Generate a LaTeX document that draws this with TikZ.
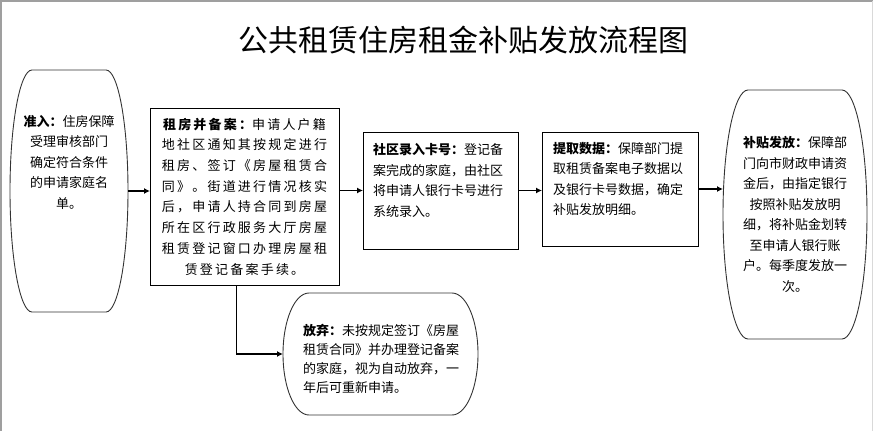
\documentclass[tikz,border=0pt]{standalone}
\usepackage{fontspec}
\setmainfont{Noto Sans CJK SC}
\usetikzlibrary{arrows.meta}

\tikzset{
  box/.style={draw, line width=1pt, inner sep=0pt, outer sep=0pt},
  blob/.style={inner sep=0pt, outer sep=0pt},
  txt/.style={inner sep=0pt, font=\fontsize{13pt}{20.5pt}\selectfont},
  shapeline/.style={draw=black!80, line width=0.9pt},
  arr/.style={line width=1.4pt, -{Latex[length=6pt,width=6pt]}},
}

% outline of a capsule node: node name, end x radius, end y radius
\newcommand{\capsule}[3]{%
  \draw[shapeline] ([xshift=#2]#1.north west) -- ([xshift=-#2]#1.north east)
    arc[start angle=90, end angle=-90, x radius=#2, y radius=#3]
    -- ([xshift=#2]#1.south west)
    arc[start angle=270, end angle=90, x radius=#2, y radius=#3] -- cycle;}

\begin{document}
\begin{tikzpicture}[x=1pt, y=-1pt]
    \useasboundingbox (0,0) rectangle (875,431);
    % frame
    \draw[gray!75, line width=1.5pt] (873,0.75) -- (1,0.75) -- (1,431);
    \draw[gray!30, line width=1pt] (872.5,0.75) -- (872.5,431);

    \node[font=\fontsize{30pt}{32pt}\selectfont] (title) at (463,40) {公共租赁住房租金补贴发放流程图};

    % shapes
    \node[blob, minimum width=118pt, minimum height=242pt] (entry) at (69,191) {};
    \capsule{entry}{22pt}{121pt}
    \node[txt, align=center] (entrytxt) at (69,162)
        {{\bfseries 准入：}住房保障\\受理审核部门\\确定符合条件\\的申请家庭名\\单。};

    \node[box, minimum width=189pt, minimum height=177pt, align=center,
          font=\fontsize{13pt}{20.7pt}\selectfont\addfontfeature{LetterSpace=17}] (rent) at (244.5,196.5)
        {{\bfseries 租房并备案：}申请人户籍\\地社区通知其按规定进行\\租房、签订《房屋租赁合\\同》。街道进行情况核实\\后，申请人持合同到房屋\\所在区行政服务大厅房屋\\租赁登记窗口办理房屋租\\赁登记备案手续。};

    \node[box, minimum width=155pt, minimum height=117pt] (card) at (440.5,190.5) {};
    \node[txt, align=left] (cardtxt) at (438,180.5)
        {{\bfseries 社区录入卡号：}登记备\\案完成的家庭，由社区\\将申请人银行卡号进行\\系统录入。};

    \node[box, minimum width=156pt, minimum height=114pt] (data) at (620,189) {};
    \node[txt, align=left] (datatxt) at (618,179)
        {{\bfseries 提取数据：}保障部门提\\取租赁备案电子数据以\\及银行卡号数据，确定\\补贴发放明细。};

    \node[blob, txt, align=center, minimum width=144pt, minimum height=249pt] (pay) at (795,214.5)
        {{\bfseries 补贴发放：}保障部\\门向市财政申请资\\金后，由指定银行\\按照补贴发放明\\细，将补贴金划转\\至申请人银行账\\户。每季度发放一\\次。};
    \capsule{pay}{25pt}{124.5pt}

    \node[blob, minimum width=195pt, minimum height=122pt] (quit) at (380.5,354) {};
    \capsule{quit}{26pt}{61pt}
    \node[txt, align=left, font=\fontsize{13pt}{19pt}\selectfont] (quittxt) at (381,358.5)
        {{\bfseries 放弃：}未按规定签订《房屋\\租赁合同》并办理登记备案\\的家庭，视为自动放弃，一\\年后可重新申请。};

    % connectors
    \draw[arr] (entry.east) -- (entry.east -| rent.west);
    \draw[arr] (card.west -| rent.east) -- (card.west);
    \draw[arr] (card.east) -- (card.east -| data.west);
    \draw[arr] (data.east) -- (data.east -| pay.west);
    \draw[arr] ([xshift=-8pt]rent.south) |- (quit.west);
\end{tikzpicture}
\end{document}
